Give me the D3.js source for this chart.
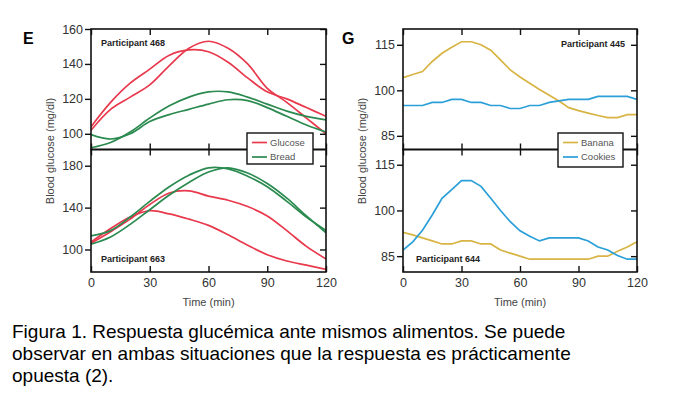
<!DOCTYPE html>
<html>
<head>
    <meta charset="utf-8" />
    <style>
        body { margin: 0; background: #fff; }
        svg { display: block; font-family: "Liberation Sans", Arial, sans-serif; }
    </style>
    <script src="https://d3js.org/d3.v7.min.js"></script>
</head>
<body>
<svg id="chart"></svg>
<script>

// time axes (min)
let times10 = [0, 10, 20, 30, 40, 50, 60, 70, 80, 90, 100, 110, 120];
let times5 = [0, 5, 10, 15, 20, 25, 30, 35, 40, 45, 50, 55, 60, 65, 70, 75, 80, 85, 90, 95, 100, 105, 110, 115, 120];
let xTicks = [0, 30, 60, 90, 120];

// Panel E - participant 468
let p468Glucose1 = [102, 114, 121, 128, 139, 149, 153, 149, 140, 126, 118, 109, 100];
let p468Glucose2 = [104, 118, 129, 137, 145, 148, 147, 141, 132, 124, 120, 115, 110];
let p468Bread1 = [92, 95, 101, 109, 116, 121, 124, 124, 121, 117, 113, 110, 108];
let p468Bread2 = [99.5, 97, 100, 107, 111, 114, 117, 119.5, 119, 115, 110, 105, 101];

// Panel E - participant 663
let p663Glucose1 = [107, 120, 131, 137, 134, 129, 123, 114, 104, 95, 89, 85, 81];
let p663Glucose2 = [106, 117, 129, 143, 154, 156, 151, 147, 141, 132, 118, 103, 91];
let p663Bread1 = [113, 118, 131, 146, 160, 171, 178, 177, 170, 160, 146, 131, 118];
let p663Bread2 = [105, 112, 124, 138, 152, 164, 174, 178, 173, 163, 149, 132, 116];

// Panel G - participant 445
let p445Banana = [104.2, 105.2, 106.2, 109.5, 112.2, 114.2, 116, 116, 115, 113.2, 110, 106.7, 104.4,
                  102.3, 100.3, 98.4, 96.5, 94.3, 93.3, 92.5, 91.7, 91, 91, 92, 92];
let p445Cookies = [95, 95, 95, 96, 96, 97, 97, 96, 96, 95, 95, 94, 94,
                   95, 95, 96, 96.5, 97, 97, 97, 98, 98, 98, 98, 97];

// Panel G - participant 644
let p644Banana = [92.8, 92, 91, 90, 89, 89, 90, 90, 89, 89, 87, 86, 85,
                  84, 84, 84, 84, 84, 84, 84, 85, 85, 86.6, 88, 89.7];
let p644Cookies = [87, 89.7, 93.5, 98.5, 104, 106.8, 109.8, 109.8, 107.9, 104, 100, 96.3, 93.3,
                   91.5, 90, 91, 91, 91, 91, 90, 88, 87, 85.2, 84, 84];

let colors = { Glucose: "#e8394d", Bread: "#2a8a4f", Banana: "#d8b445", Cookies: "#2b9fd8" };

/* layout */

let W = 674, H = 398;

let svg = d3.select("#chart")
    .attr("width", W)
    .attr("height", H);

let panels = [
    { id: "p468", x: [91, 326], y: [149.5, 29], dom: [91, 160], yTicks: [100, 120, 140, 160],
      label: "Participant 468", labelPos: [101, 46, "start"], bottom: false,
      series: [["Glucose", times10, p468Glucose1], ["Glucose", times10, p468Glucose2],
               ["Bread", times10, p468Bread1], ["Bread", times10, p468Bread2]], smooth: true },
    { id: "p663", x: [91, 326], y: [272, 149.5], dom: [78.5, 195.5], yTicks: [100, 140, 180],
      label: "Participant 663", labelPos: [101, 262, "start"], bottom: true,
      series: [["Glucose", times10, p663Glucose1], ["Glucose", times10, p663Glucose2],
               ["Bread", times10, p663Bread1], ["Bread", times10, p663Bread2]], smooth: true },
    { id: "p445", x: [403, 637], y: [149.5, 29], dom: [80.5, 120.2], yTicks: [85, 100, 115],
      label: "Participant 445", labelPos: [625, 47, "end"], bottom: false,
      series: [["Banana", times5, p445Banana], ["Cookies", times5, p445Cookies]], smooth: false },
    { id: "p644", x: [403, 637], y: [272, 149.5], dom: [79.8, 120], yTicks: [85, 100, 115],
      label: "Participant 644", labelPos: [416, 262, "start"], bottom: true,
      series: [["Banana", times5, p644Banana], ["Cookies", times5, p644Cookies]], smooth: false }
];

panels.forEach(p => {
    let x = d3.scaleLinear().domain([0, 120]).range(p.x);
    let y = d3.scaleLinear().domain(p.dom).range(p.y);
    let g = svg.append("g").attr("id", p.id);

    g.append("clipPath").attr("id", "clip-" + p.id)
        .append("rect")
        .attr("x", p.x[0]).attr("y", p.y[1])
        .attr("width", p.x[1] - p.x[0]).attr("height", p.y[0] - p.y[1]);

    let line = d3.line()
        .x(d => x(d[0]))
        .y(d => y(d[1]))
        .curve(p.smooth ? d3.curveCatmullRom.alpha(0.5) : d3.curveLinear);

    g.append("g").attr("clip-path", "url(#clip-" + p.id + ")")
        .selectAll("path")
        .data(p.series)
        .enter()
        .append("path")
        .attr("d", s => line(s[1].map((t, i) => [t, s[2][i]])))
        .style("fill", "none")
        .style("stroke", s => colors[s[0]])
        .style("stroke-width", 1.7);

    // left axis (ticks outward)
    let left = g.append("g")
        .attr("transform", "translate(" + p.x[0] + ",0)")
        .call(d3.axisLeft(y).tickValues(p.yTicks).tickSize(6).tickPadding(2));
    left.selectAll("text").style("font-size", "12.5px").style("fill", "#333");

    // right axis (ticks pointing in)
    g.append("g")
        .attr("transform", "translate(" + p.x[1] + ",0)")
        .call(d3.axisRight(y).tickValues(p.yTicks).tickSize(-6).tickFormat(""));

    // top ticks
    g.append("g")
        .attr("transform", "translate(0," + p.y[1] + ")")
        .call(d3.axisTop(x).tickValues(xTicks).tickSize(-6).tickFormat(""));

    // bottom ticks, labels only on the lower panel
    let bot = g.append("g")
        .attr("transform", "translate(0," + p.y[0] + ")")
        .call(d3.axisBottom(x).tickValues(xTicks).tickSize(-6).tickPadding(6)
            .tickFormat(p.bottom ? d3.format("d") : ""));
    bot.selectAll("text").style("font-size", "12.5px").style("fill", "#333");

    g.selectAll(".domain").remove();
    g.selectAll(".tick line").style("stroke", "#111").style("stroke-width", 1.4);

    g.append("rect")
        .attr("x", p.x[0]).attr("y", p.y[1])
        .attr("width", p.x[1] - p.x[0]).attr("height", p.y[0] - p.y[1])
        .style("fill", "none")
        .style("stroke", "#111")
        .style("stroke-width", 1.6);

    g.append("text")
        .attr("x", p.labelPos[0]).attr("y", p.labelPos[1])
        .attr("text-anchor", p.labelPos[2])
        .style("font-size", "9px")
        .style("font-weight", "bold")
        .style("fill", "#222")
        .text(p.label);

    if (p.bottom) {
        g.append("text")
            .attr("x", (p.x[0] + p.x[1]) / 2).attr("y", 306)
            .attr("text-anchor", "middle")
            .style("font-size", "11px")
            .style("fill", "#444")
            .text("Time (min)");
    }
});

// y axis titles
[50, 362].forEach(cx => {
    svg.append("text")
        .attr("transform", "translate(" + cx + ",151) rotate(-90)")
        .attr("text-anchor", "middle")
        .attr("dy", "0.35em")
        .style("font-size", "11px")
        .style("fill", "#444")
        .text("Blood glucose (mg/dl)");
});

// panel letters
svg.append("text").attr("x", 23).attr("y", 44)
    .style("font-size", "16px").style("font-weight", "bold").text("E");
svg.append("text").attr("x", 342).attr("y", 44)
    .style("font-size", "16px").style("font-weight", "bold").text("G");

// legends
let legends = [
    { box: [247, 133, 66, 31], keys: ["Glucose", "Bread"] },
    { box: [558, 133, 65, 34], keys: ["Banana", "Cookies"] }
];

legends.forEach(l => {
    let lg = svg.append("g");
    lg.append("rect")
        .attr("x", l.box[0]).attr("y", l.box[1])
        .attr("width", l.box[2]).attr("height", l.box[3])
        .style("fill", "#fff").style("stroke", "#111").style("stroke-width", 1.4);
    let item = lg.selectAll("g")
        .data(l.keys)
        .enter()
        .append("g")
        .attr("transform", (d, i) => "translate(" + (l.box[0] + 5) + "," + (l.box[1] + 9.5 + i * 14.5) + ")");
    item.append("line")
        .attr("x1", 0).attr("x2", 15)
        .style("stroke", d => colors[d]).style("stroke-width", 1.7);
    item.append("text")
        .attr("x", 18).attr("dy", "0.35em")
        .style("font-size", "9.5px").style("fill", "#555")
        .text(d => d);
});

// caption
let caption = [
    "Figura 1. Respuesta glucémica ante mismos alimentos. Se puede",
    "observar en ambas situaciones que la respuesta es prácticamente",
    "opuesta (2)."
];

svg.append("g")
    .selectAll("text")
    .data(caption)
    .enter()
    .append("text")
    .attr("x", 12)
    .attr("y", (d, i) => 338 + i * 22)
    .style("font-size", "19px")
    .style("fill", "#000")
    .text(d => d);

</script>
</body>
</html>
